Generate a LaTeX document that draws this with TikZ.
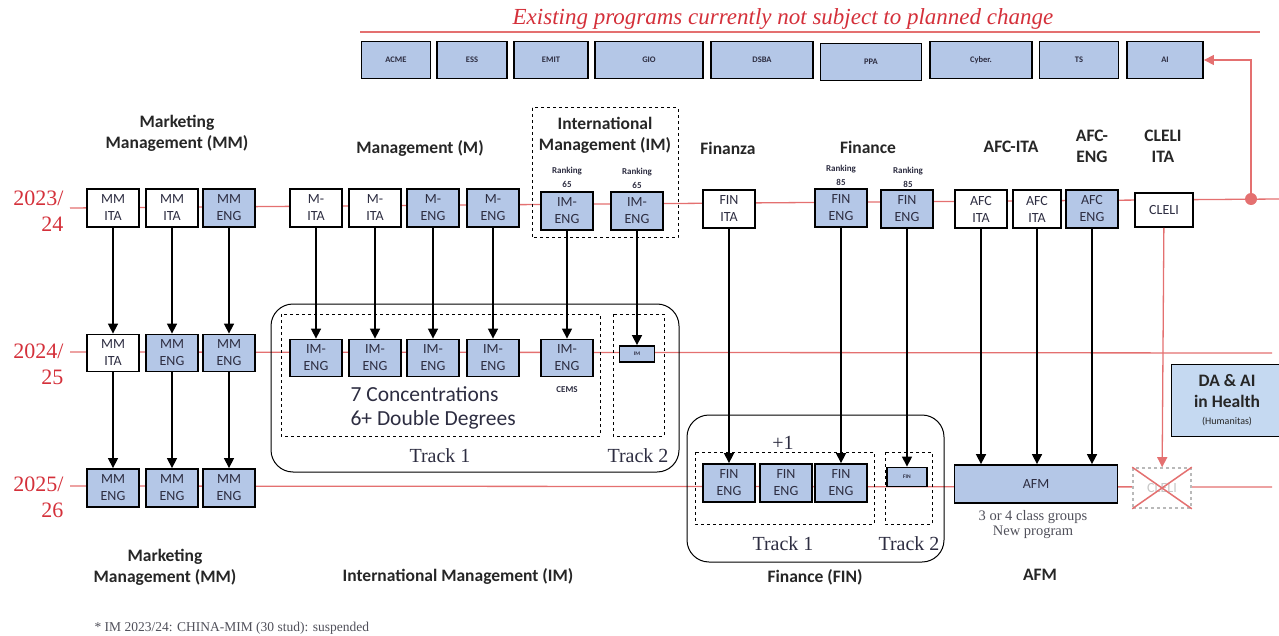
\documentclass[tikz,border=0pt]{standalone}
\usepackage{fontspec}
\setmainfont{Carlito}
\newfontfamily\slab{Liberation Serif}
\usetikzlibrary{arrows.meta}

\definecolor{progblue}{RGB}{180,199,231}
\definecolor{healthblue}{RGB}{197,217,241}
\definecolor{linered}{RGB}{228,112,112}
\definecolor{yearred}{RGB}{212,48,58}
\definecolor{boxtext}{RGB}{45,45,65}
\definecolor{notegray}{RGB}{80,80,90}

\begin{document}
\begin{tikzpicture}[x=1pt, y=-1pt,
    prog/.style={draw, line width=1.8pt, fill=white, minimum width=52, minimum height=38, inner sep=0pt, align=center, text=boxtext, font=\fontsize{14}{17}\selectfont},
    progeng/.style={prog, fill=progblue},
    topbox/.style={draw, line width=1.8pt, fill=progblue, minimum height=37, inner sep=0pt, text=boxtext, font=\bfseries\fontsize{8.5}{10}\selectfont},
    tinybox/.style={progeng, minimum height=16, font=\bfseries\fontsize{5.5}{6}\selectfont},
    head/.style={align=center, text=black!85, font=\bfseries\fontsize{17.5}{21}\selectfont},
    rank/.style={align=center, text=boxtext, font=\bfseries\fontsize{9}{14}\selectfont},
    year/.style={align=right, anchor=east, text=yearred, font=\slab\fontsize{22}{26}\selectfont},
    track/.style={text=boxtext, font=\slab\fontsize{20}{22}\selectfont},
    timeline/.style={draw=linered, line width=1.3pt},
    arr/.style={-{Triangle[width=10pt,length=10pt]}, line width=1.6pt},
    redarr/.style={timeline, -{Triangle[width=10pt,length=10pt]}},
    dashbox/.style={draw, dashed, line width=1pt},
    trackframe/.style={draw, line width=1pt, rounded corners=22pt}
]
  \useasboundingbox (0,0) rectangle (1279,636);

  % title and existing programs
  \node[text=yearred, font=\slab\itshape\fontsize{23}{26}\selectfont] (title) at (783,19) {Existing programs currently not subject to planned change};
  \draw[timeline] (360,32) -- (1260,32);

  \node[topbox, minimum width=69] (acme) at (396,60) {ACME};
  \node[topbox, minimum width=70] (ess) at (472,60) {ESS};
  \node[topbox, minimum width=74] (emit) at (551,60) {EMIT};
  \node[topbox, minimum width=108] (gio) at (649,60) {GIO};
  \node[topbox, minimum width=102] (dsba) at (762,60) {DSBA};
  \node[topbox, minimum width=101] (ppa) at (871,62) {PPA};
  \node[topbox, minimum width=102] (cyber) at (981,60) {Cyber.};
  \node[topbox, minimum width=79] (ts) at (1079,60) {TS};
  \node[topbox, minimum width=76] (ai) at (1165,60) {AI};

  % timelines
  \node[year] (yA) at (67,211) {2023/\\24};
  \node[year] (yB) at (67,364) {2024/\\25};
  \node[year] (yC) at (67,497) {2025/\\26};
  \coordinate (tA) at (70,208);
  \coordinate (eA) at (1279,199);
  \coordinate (tB) at (70,352);
  \coordinate (eB) at (1272,353);
  \coordinate (tC) at (70,486);
  \coordinate (eC) at (1272,487);
  \draw[timeline] (tA) -- (eA);
  \draw[timeline] (tB) -- (eB);
  \draw[timeline] (tC) -- (eC);

  % headers 2023/24
  \node[head] (hMM) at (177,133) {Marketing\\Management (MM)};
  \node[head] (hM) at (420,148) {Management (M)};
  \draw[dashbox] (532,108) rectangle (678,238);
  \node[head] (hIM) at (605,135) {International\\Management (IM)};
  \node[head] (hFinanza) at (728,148) {Finanza};
  \node[head] (hFinance) at (868,147) {Finance};
  \node[head] (hAFCita) at (1011,147) {AFC-ITA};
  \node[head] (hAFCeng) at (1092,146) {AFC-\\ENG};
  \node[head] (hCLELI) at (1163,146) {CLELI\\ITA};
  \node[rank] (rkA) at (567,177) {Ranking\\65};
  \node[rank] (rkB) at (637,178) {Ranking\\65};
  \node[rank] (rkC) at (841,175) {Ranking\\85};
  \node[rank] (rkD) at (908,177) {Ranking\\85};

  % row 2023/24
  \node[prog] (mmA1) at (113,208) {MM\\ITA};
  \node[prog] (mmA2) at (172,208) {MM\\ITA};
  \node[progeng] (mmA3) at (229,208) {MM\\ENG};
  \node[prog] (mA1) at (316,208) {M-\\ITA};
  \node[prog] (mA2) at (375,208) {M-\\ITA};
  \node[progeng] (mA3) at (433,208) {M-\\ENG};
  \node[progeng] (mA4) at (493,208) {M-\\ENG};
  \node[progeng] (imA1) at (567,211) {IM-\\ENG};
  \node[progeng] (imA2) at (637,211) {IM-\\ENG};
  \node[prog] (finA1) at (729,209) {FIN\\ITA};
  \node[progeng] (finA2) at (841,208) {FIN\\ENG};
  \node[progeng] (finA3) at (907,209) {FIN\\ENG};
  \node[prog] (afcA1) at (981,209) {AFC\\ITA};
  \node[prog, minimum width=48] (afcA2) at (1037,209) {AFC\\ITA};
  \node[progeng] (afcA3) at (1092,209) {AFC\\ENG};
  \node[prog, minimum width=58, minimum height=34] (cleli) at (1164,210) {CLELI};
  \node[circle, fill=linered, inner sep=0pt, minimum size=12] (dot) at (1251,199) {};
  \draw[redarr] (dot) |- (ai.east);

  % row 2024/25
  \draw[trackframe] (271,304) rectangle (679,472);
  \draw[dashbox] (281,314) rectangle (600,436);
  \draw[dashbox] (613,314) rectangle (664,436);
  \node[prog, minimum height=37] (mmB1) at (113,353) {MM\\ITA};
  \node[progeng, minimum height=37] (mmB2) at (172,353) {MM\\ENG};
  \node[progeng, minimum height=37] (mmB3) at (229,353) {MM\\ENG};
  \node[progeng, minimum height=37] (imB1) at (316,358) {IM-\\ENG};
  \node[progeng, minimum height=37] (imB2) at (375,358) {IM-\\ENG};
  \node[progeng, minimum height=37] (imB3) at (433,358) {IM-\\ENG};
  \node[progeng, minimum height=37] (imB4) at (493,358) {IM-\\ENG};
  \node[progeng, minimum height=37] (imB5) at (567,358) {IM-\\ENG};
  \node[tinybox, minimum width=35] (imB6) at (637,354) {IM};
  \node[rank] (cems) at (567,390) {CEMS};
  \node[anchor=north west, align=left, text=boxtext, font=\fontsize{21.5}{24}\selectfont] (conc) at (347,383) {7 Concentrations\\6+ Double Degrees};
  \node[track] (trA) at (440,456) {Track 1};
  \node[track] (trB) at (638,456) {Track 2};
  \node[draw, line width=1.2pt, fill=healthblue, minimum width=111, minimum height=72, anchor=north west, align=center, text=black!85, font=\bfseries\fontsize{17.5}{21}\selectfont] (health) at (1171,364) {DA \& AI\\in Health\\[-4pt]{\mdseries\fontsize{10}{11}\selectfont (Humanitas)}};

  % row 2025/26
  \draw[trackframe] (687,415) rectangle (944,562);
  \draw[dashbox] (695,452) rectangle (874,524);
  \draw[dashbox] (885,452) rectangle (932,524);
  \node[fill=white, inner sep=2pt, text=boxtext, font=\slab\fontsize{20}{22}\selectfont] (plus) at (783,443) {+1};
  \node[progeng] (mmC1) at (113,488) {MM\\ENG};
  \node[progeng] (mmC2) at (172,488) {MM\\ENG};
  \node[progeng] (mmC3) at (229,488) {MM\\ENG};
  \node[progeng] (finC1) at (729,483) {FIN\\ENG};
  \node[progeng] (finC2) at (786,483) {FIN\\ENG};
  \node[progeng] (finC3) at (841,483) {FIN\\ENG};
  \node[tinybox, minimum width=40, minimum height=19] (finC4) at (907,477) {FIN};
  \node[track] (trC) at (783,544) {Track 1};
  \node[track] (trD) at (909,544) {Track 2};
  \node[progeng, minimum width=163] (afm) at (1036,484) {AFM};
  \node[align=center, text=notegray, font=\slab\fontsize{14.5}{15}\selectfont] (afmnote) at (1033,525) {3 or 4 class groups\\New program};
  \node[draw=gray!55, dashed, line width=1.6pt, fill=white, minimum width=58, minimum height=40, text=gray!45, font=\fontsize{14}{17}\selectfont] (cleliX) at (1162,488) {CLELI};
  \draw[linered, line width=1.5pt] (cleliX.north west) -- (cleliX.south east);
  \draw[linered, line width=1.5pt] (cleliX.north east) -- (cleliX.south west);

  % transitions
  \draw[arr] (mmA1) -- (mmB1);
  \draw[arr] (mmA2) -- (mmB2);
  \draw[arr] (mmA3) -- (mmB3);
  \draw[arr, line width=1.3pt] (mmB1) -- (mmC1);
  \draw[arr, line width=1.3pt] (mmB2) -- (mmC2);
  \draw[arr, line width=1.3pt] (mmB3) -- (mmC3);
  \draw[arr] (mA1) -- (imB1);
  \draw[arr] (mA2) -- (imB2);
  \draw[arr] (mA3) -- (imB3);
  \draw[arr] (mA4) -- (imB4);
  \draw[arr, line width=1.3pt] (imA1) -- (imB5);
  \draw[arr] (imA2) -- (imB6);
  \draw[arr, line width=1.3pt] (finA1) -- (finC1);
  \draw[arr, line width=1.3pt] (finA2) -- (finC3);
  \draw[arr, line width=1.3pt] (finA3) -- (finC4);
  \draw[arr] (afcA1) -- (afcA1 |- afm.north);
  \draw[arr] (afcA2) -- (afcA2 |- afm.north);
  \draw[arr] (afcA3) -- (afcA3 |- afm.north);
  \draw[redarr] (cleli) -- (cleliX);

  % bottom labels
  \node[head] (bMM) at (165,567) {Marketing\\Management (MM)};
  \node[head] (bIM) at (458,576) {International Management (IM)};
  \node[head] (bFIN) at (815,577) {Finance (FIN)};
  \node[head] (bAFM) at (1040,575) {AFM};
  \node[anchor=west, text=notegray, font=\slab\fontsize{13.5}{15}\selectfont] (note) at (91,628) {* IM 2023/24: CHINA-MIM (30 stud): suspended};
\end{tikzpicture}
\end{document}
